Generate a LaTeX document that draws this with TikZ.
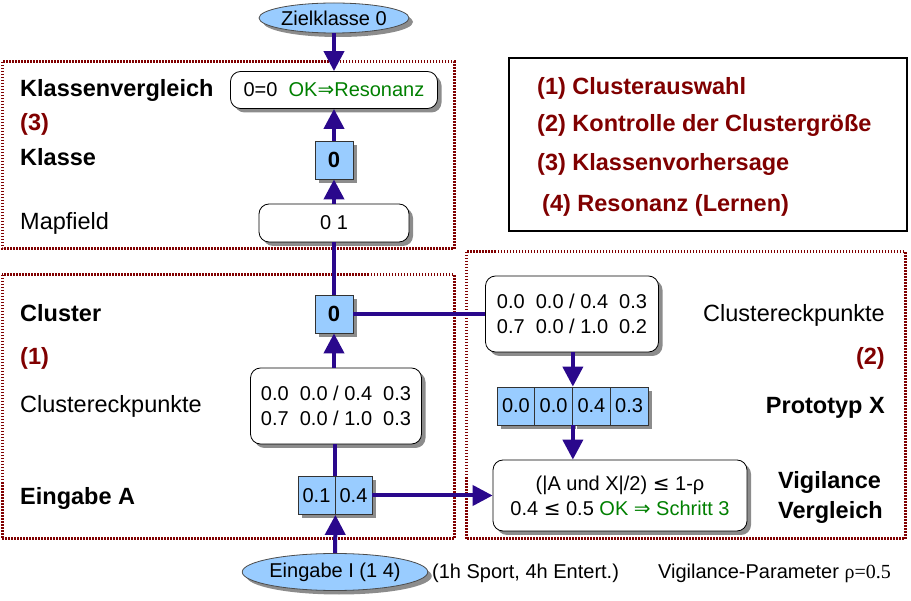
\documentclass[tikz,border=0pt]{standalone}
\usepackage{fontspec}
\setmainfont{Liberation Sans}
\newfontfamily\symfont{DejaVu Sans}
\newfontfamily\serfont{Liberation Serif}
\usepackage{xcolor}
\usetikzlibrary{arrows.meta,shapes.geometric,shadows}
\definecolor{arrowblue}{RGB}{42,8,140}
\definecolor{cellblue}{RGB}{153,204,255}
\definecolor{darkred}{RGB}{128,0,0}
\definecolor{okgreen}{RGB}{0,128,0}

\begin{document}
\begin{tikzpicture}[x=1pt,y=-1pt,
		bigtext/.style={font=\fontsize{23.5}{28}\selectfont,inner sep=0pt},
		boldtext/.style={font=\fontsize{23.5}{28}\selectfont\bfseries,inner sep=0pt},
		numtext/.style={font=\fontsize{20}{25}\selectfont,inner sep=0pt},
		boxshadow/.style={drop shadow={shadow xshift=4pt,shadow yshift=-4pt,fill=black!45,opacity=1}},
		roundbox/.style={draw,line width=0.8pt,fill=white,rounded corners=10pt,align=center,numtext,boxshadow},
		bluecell/.style={draw=black!80,line width=0.8pt,fill=cellblue,minimum height=38pt,numtext,boxshadow},
		blueoval/.style={ellipse,draw=black!70,line width=0.8pt,fill=cellblue,numtext,boxshadow},
		zone/.style={draw=darkred,line width=3pt,dash pattern=on 1.5pt off 1.5pt},
		arrowed/.style={-{Triangle[length=20pt,width=20pt]}}
	]
		\useasboundingbox (0,0) rectangle (911,601);
		% dotted frames and legend
		\draw[zone] (2,62) rectangle (454,249);
		\draw[zone] (2,275) rectangle (454,539);
		\draw[zone] (466,252) rectangle (905,539);
		\draw[line width=2pt] (509,58) rectangle (907,231);
		\node[boldtext,text=darkred,anchor=base west] (L1) at (537,95) {(1) Clusterauswahl};
		\node[boldtext,text=darkred,anchor=base west] (L2) at (537,132) {(2) Kontrolle der Clustergröße};
		\node[boldtext,text=darkred,anchor=base west] (L3) at (537,171) {(3) Klassenvorhersage};
		\node[boldtext,text=darkred,anchor=base west] (L4) at (542,212) {(4) Resonanz (Lernen)};
		%
		% left labels
		\node[boldtext,anchor=base west] (T1) at (20,97) {Klassenvergleich};
		\node[boldtext,text=darkred,anchor=base west] (T2) at (20,131) {(3)};
		\node[boldtext,anchor=base west] (T3) at (20,166) {Klasse};
		\node[bigtext,anchor=base west] (T4) at (20,230) {Mapfield};
		\node[boldtext,anchor=base west] (T5) at (20,322) {Cluster};
		\node[boldtext,text=darkred,anchor=base west] (T6) at (20,365) {(1)};
		\node[bigtext,anchor=base west] (T7) at (20,413) {Clustereckpunkte};
		\node[boldtext,anchor=base west] (T8) at (20,504) {Eingabe A};
		%
		% right labels
		\node[bigtext,anchor=base east] (R1) at (885,322) {Clustereckpunkte};
		\node[boldtext,text=darkred,anchor=base east] (R2) at (885,365) {(2)};
		\node[boldtext,anchor=base east] (R3) at (885,414) {Prototyp X};
		\node[boldtext,anchor=base west] (R4) at (778,489) {Vigilance};
		\node[boldtext,anchor=base west] (R5) at (778,519) {Vergleich};
		%
		% centre column
		\node[blueoval,minimum width=150pt,minimum height=30pt] (Z) at (334,18) {Zielklasse 0};
		\node[roundbox,minimum width=207pt,minimum height=37pt] (KV) at (334,90) {0=0\ \ \textcolor{okgreen}{OK{\symfont ⇒}Resonanz}};
		\node[bluecell,minimum width=38pt,font=\fontsize{22}{26}\selectfont\bfseries] (K) at (334,160) {0};
		\node[roundbox,minimum width=150pt,minimum height=38pt] (M) at (334,223) {0 1};
		\node[bluecell,minimum width=38pt,font=\fontsize{22}{26}\selectfont\bfseries] (C) at (334,314) {0};
		\node[roundbox,minimum width=171pt,minimum height=76pt] (CL) at (336,406) {0.0\ \ 0.0 / 0.4\ \ 0.3\\0.7\ \ 0.0 / 1.0\ \ 0.3};
		\node[bluecell,minimum width=37pt] (A1) at (316.5,495.5) {0.1};
		\node[bluecell,minimum width=37pt] (A2) at (353.5,495.5) {0.4};
		\node[blueoval,minimum width=166pt,minimum height=37pt] (I) at (335,572) {Eingabe I (1 4)};
		%
		% right column
		\node[roundbox,minimum width=173pt,minimum height=76pt] (CR) at (572,314) {0.0\ \ 0.0 / 0.4\ \ 0.3\\0.7\ \ 0.0 / 1.0\ \ 0.2};
		\node[bluecell,minimum width=37.75pt] (X1) at (515.9,406) {0.0};
		\node[bluecell,minimum width=37.75pt] (X2) at (553.6,406) {0.0};
		\node[bluecell,minimum width=37.75pt] (X3) at (591.4,406) {0.4};
		\node[bluecell,minimum width=37.75pt] (X4) at (629.1,406) {0.3};
		\node[roundbox,minimum width=254pt,minimum height=71pt] (V) at (620,495.5) {(|A und X|/2) {\symfont ≤} 1-ρ\\0.4 {\symfont ≤} 0.5 \textcolor{okgreen}{OK {\symfont ⇒} Schritt 3}};
		%
		% bottom notes
		\node[numtext,anchor=base west] (N1) at (432,578) {(1h Sport, 4h Entert.)};
		\node[numtext,anchor=base west] (N2) at (658,578) {Vigilance-Parameter {\serfont ρ=0.5}};
		%
		\path[color=arrowblue,line width=4pt]
		% centre column
		(Z) edge[arrowed] (KV)
		(K) edge[arrowed] (KV)
		(M) edge[arrowed] (K)
		(C) edge (M)
		(CL.north -| C.south) edge[arrowed] (C)
		(A1.north east) edge (A1.north east |- CL.south)
		(I) edge[arrowed] (A1.south east)
		% right column
		(C) edge (CR)
		(CR.south -| X2.north east) edge[arrowed] (X2.north east)
		(X2.south east) edge[arrowed] (X2.south east |- V.north)
		(A2) edge[arrowed] (V);
	\end{tikzpicture}
\end{document}
